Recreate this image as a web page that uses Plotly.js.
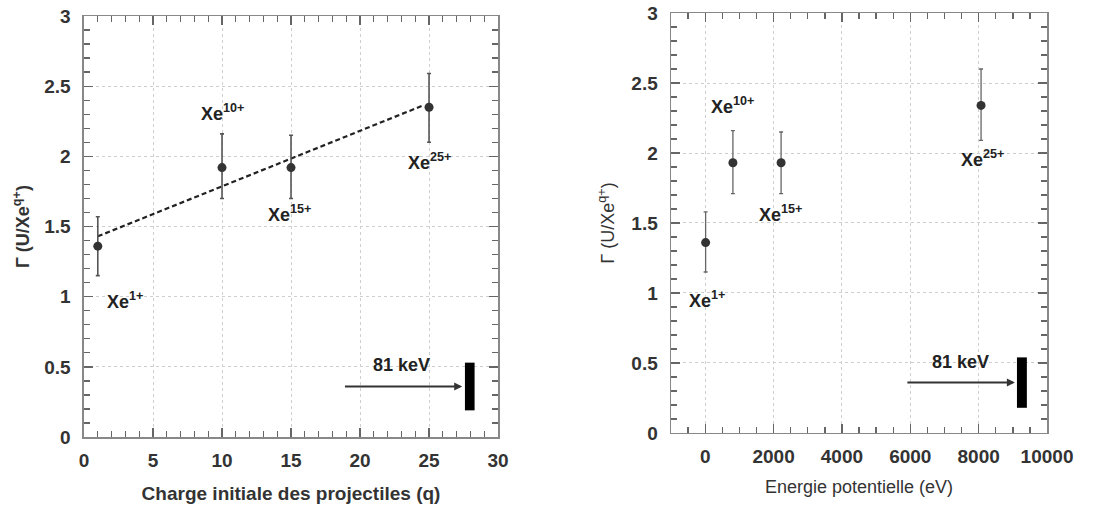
<!DOCTYPE html>
<html>
<head>
<meta charset="utf-8">
<script src="https://cdn.plot.ly/plotly-3.0.1.min.js"></script>
<style>html,body{margin:0;padding:0;background:#fff;}#chart{width:1114px;height:512px;}</style>
</head>
<body>
<div id="chart"></div>
<script>
// ---- data (left panel: charge q) ----
const chargeQ = [1, 10, 15, 25];
const gammaQ = [1.36, 1.92, 1.92, 2.35];
const gammaQUpper = [1.57, 2.16, 2.15, 2.59];
const gammaQLower = [1.15, 1.70, 1.70, 2.10];
const fitQ = [1, 24.5];
const fitGamma = [1.43, 2.36];

// ---- data (right panel: potential energy) ----
const energyEV = [12, 810, 2220, 8070];
const gammaE = [1.36, 1.93, 1.93, 2.34];
const gammaEUpper = [1.58, 2.16, 2.15, 2.60];
const gammaELower = [1.15, 1.71, 1.71, 2.09];

// ---- labels ----
const ionLabels = ['Xe<sup>1+</sup>', 'Xe<sup>10+</sup>', 'Xe<sup>15+</sup>', 'Xe<sup>25+</sup>'];
const ionLabelQX = [3.0, 10.0, 14.9, 25.0];
const ionLabelQY = [0.97, 2.31, 1.59, 1.96];
const ionLabelEX = [60, 810, 2190, 8100];
const ionLabelEY = [0.95, 2.34, 1.57, 1.96];
const beamLabel = '81 keV';
// beam arrow + target bar, per panel: [arrowStartX, arrowEndX, arrowY, labelX, labelY, barX0, barX1, barY0, barY1]
const beamQ = [18.8, 27.4, 0.36, 23.0, 0.51, 27.6, 28.3, 0.19, 0.53];
const beamE = [5870, 9060, 0.36, 7480, 0.51, 9120, 9410, 0.18, 0.54];

const FONT = 'Liberation Sans, Arial, sans-serif';
const dark = '#222';

function plusArr(v, up) { return up.map((u, i) => u - v[i]); }
function minusArr(v, lo) { return lo.map((l, i) => v[i] - l); }

const traces = [
  {
    x: fitQ, y: fitGamma, xaxis: 'x', yaxis: 'y', mode: 'lines',
    line: {color: '#222', width: 2.2, dash: '5px,3px'}, hoverinfo: 'skip'
  },
  {
    x: chargeQ, y: gammaQ, xaxis: 'x', yaxis: 'y', mode: 'markers',
    marker: {color: '#333', size: 9},
    error_y: {type: 'data', symmetric: false, array: plusArr(gammaQ, gammaQUpper),
      arrayminus: minusArr(gammaQ, gammaQLower), color: '#555', thickness: 1.6, width: 2}
  },
  {
    x: energyEV, y: gammaE, xaxis: 'x2', yaxis: 'y2', mode: 'markers',
    marker: {color: '#333', size: 9},
    error_y: {type: 'data', symmetric: false, array: plusArr(gammaE, gammaEUpper),
      arrayminus: minusArr(gammaE, gammaELower), color: '#666', thickness: 1.3, width: 2}
  }
];

function axisCommon() {
  return {
    showline: true, linecolor: '#888', linewidth: 1.5, mirror: 'allticks',
    ticks: 'inside', ticklen: 9, tickcolor: '#666', tickwidth: 1.3,
    showgrid: true, gridcolor: '#cfcfcf', griddash: 'dot', gridwidth: 1,
    zeroline: false, automargin: false,
    tickfont: {family: FONT, size: 19, color: '#333', weight: 'bold'}
  };
}
function minorTicks(d) {
  return {dtick: d, ticks: 'inside', ticklen: 6, tickcolor: '#666', tickwidth: 1.3, showgrid: false};
}

const margin = {l: 60, r: 50, t: 10, b: 60};

const layout = {
  width: 1114, height: 512, margin: margin,
  paper_bgcolor: '#fff', plot_bgcolor: '#fff', showlegend: false,
  font: {family: FONT, color: dark},
  xaxis: Object.assign(axisCommon(), {
    domain: [0.0239, 0.4363], anchor: 'y', range: [0, 30], dtick: 5, tick0: 0,
    minor: minorTicks(1),
    ticklabelstandoff: 6,
    title: {text: 'Charge initiale des projectiles (q)', standoff: 16,
      font: {family: FONT, size: 19, color: '#333', weight: 'bold'}}
  }),
  yaxis: Object.assign(axisCommon(), {
    domain: [0.0339, 0.9864], anchor: 'x', range: [0, 3], dtick: 0.5,
    minor: minorTicks(0.1),
    ticklabelstandoff: 8,
    title: {text: 'Γ (U/Xe<sup>q+</sup>)', standoff: 10,
      font: {family: FONT, size: 18, color: '#333', weight: 'bold'}}
  }),
  xaxis2: Object.assign(axisCommon(), {
    domain: [0.6086, 0.9831], anchor: 'y2', range: [-1000, 10000], dtick: 2000, tick0: 0,
    tickformat: 'd',
    minor: minorTicks(500),
    ticklabelstandoff: 6,
    title: {text: 'Energie potentielle (eV)', standoff: 14,
      font: {family: FONT, size: 18, color: '#333'}}
  }),
  yaxis2: Object.assign(axisCommon(), {
    domain: [0.0430, 0.9932], anchor: 'x2', range: [0, 3], dtick: 0.5,
    minor: minorTicks(0.1),
    ticklabelstandoff: 8,
    title: {text: 'Γ (U/Xe<sup>q+</sup>)', standoff: 12,
      font: {family: FONT, size: 18, color: '#333'}}
  }),
  annotations: [],
  shapes: []
};

function addPanel(xr, yr, lx, ly, beam) {
  ionLabels.forEach((t, i) => {
    layout.annotations.push({
      xref: xr, yref: yr, x: lx[i], y: ly[i], text: t, showarrow: false,
      font: {family: FONT, size: 18, color: dark, weight: 'bold'}
    });
  });
  layout.annotations.push({
    xref: xr, yref: yr, x: beam[3], y: beam[4], text: beamLabel, showarrow: false,
    font: {family: FONT, size: 18, color: dark, weight: 'bold'}
  });
  layout.annotations.push({
    xref: xr, yref: yr, x: beam[1], y: beam[2], axref: xr, ayref: yr,
    ax: beam[0], ay: beam[2], text: '', showarrow: true,
    arrowhead: 2, arrowsize: 0.8, arrowwidth: 2, arrowcolor: '#333'
  });
  layout.shapes.push({
    type: 'rect', xref: xr, yref: yr, x0: beam[5], x1: beam[6], y0: beam[7], y1: beam[8],
    fillcolor: '#000', line: {width: 0}
  });
}
addPanel('x', 'y', ionLabelQX, ionLabelQY, beamQ);
addPanel('x2', 'y2', ionLabelEX, ionLabelEY, beamE);

Plotly.newPlot('chart', traces, layout, {displayModeBar: false, staticPlot: true});
</script>
</body>
</html>
